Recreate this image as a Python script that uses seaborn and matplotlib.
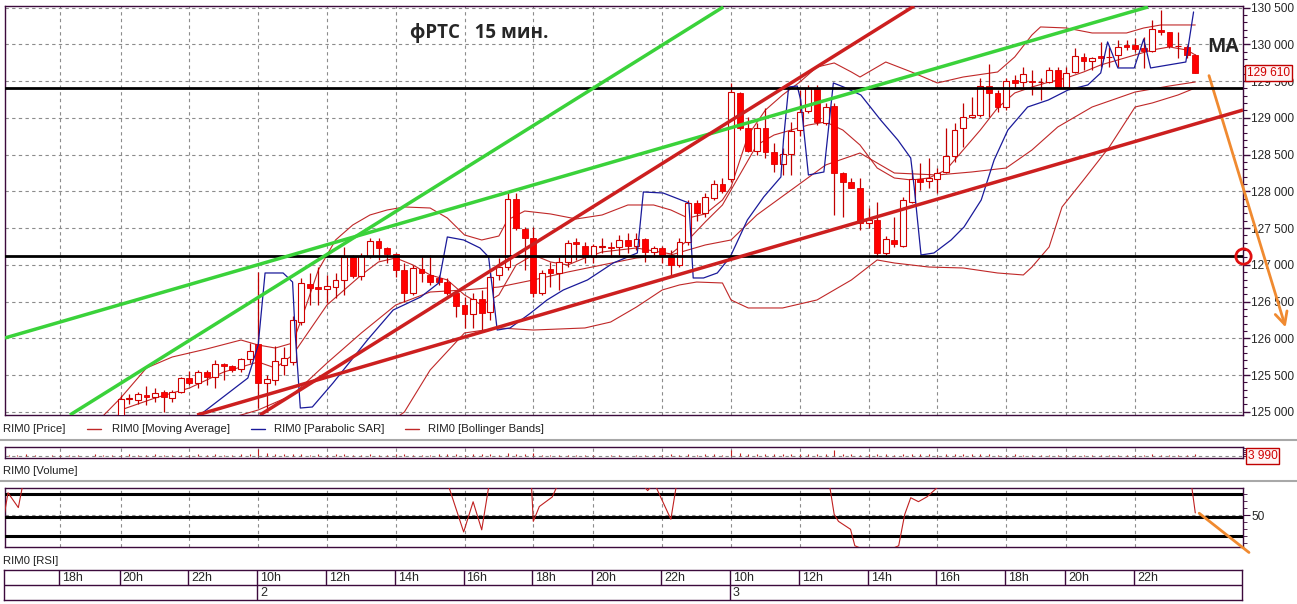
import matplotlib
matplotlib.use('Agg')
import matplotlib.pyplot as plt
import matplotlib.font_manager as fm
from matplotlib.lines import Line2D
from matplotlib.ticker import FixedLocator, MultipleLocator, FuncFormatter
import numpy as np
import pandas as pd
import seaborn as sns

# bar index: 0 = the 10:00 candle of day 2, one step = one 15 min candle
bar = list(range(-16, 110))
opens = [124950, 125175, 125160, 125225, 125200, 125275, 125185, 125275, 125465, 125390, 125545, 125480, 125650, 125630, 125580, 125715,
         125920, 125390, 125435, 125640, 125680, 126220, 126740, 126700, 126665, 126700, 126795, 127120, 126850, 127120, 127325, 127225,
         127145, 126930, 126620, 126945, 126865, 126820, 126770, 126620, 126455, 126325, 126530, 126360, 126860, 126975, 127900, 127485,
         127370, 126620, 126940, 126885, 127045, 127315, 127260, 127110, 127245, 127245, 127245, 127340, 127255, 127345, 127180, 127225,
         127135, 127000, 127315, 127835, 127710, 127905, 128095, 128165, 129335, 128855, 128555, 128855, 128540, 128370, 128505, 128835,
         129095, 129400, 128925, 129160, 128245, 128125, 128050, 127565, 127610, 127155, 127340, 127255, 127860, 128165, 128140, 128165,
         128265, 128480, 128855, 129005, 129040, 129435, 129340, 129145, 129515, 129490, 129500, 129490, 129490, 129650, 129425, 129620,
         129830, 129775, 129835, 129825, 129855, 129995, 129985, 129950, 129910, 130195, 130165, 129975, 129970, 129855]
highs = [125230, 125240, 125275, 125350, 125320, 125300, 125300, 125480, 125555, 125570, 125570, 125705, 125660, 125640, 125730, 125930,
         126905, 125500, 125895, 125885, 126305, 126820, 126890, 126975, 126860, 126890, 127245, 127135, 127160, 127365, 127365, 127245,
         127160, 127025, 127000, 127105, 127135, 126860, 126815, 126635, 126565, 126615, 126660, 126885, 127095, 127975, 127975, 127520,
         127520, 126930, 127045, 127110, 127340, 127360, 127315, 127290, 127365, 127315, 127405, 127430, 127430, 127365, 127255, 127255,
         127200, 127360, 127880, 127880, 127975, 128155, 128175, 129480, 129355, 129015, 128925, 129130, 128655, 128585, 128945, 129380,
         129445, 129445, 129200, 129200, 128265, 128175, 128175, 127770, 127860, 127390, 127655, 127925, 128290, 128380, 128450, 128315,
         128855, 128925, 129200, 129285, 129540, 129730, 129380, 129540, 129585, 129695, 129650, 129540, 129695, 129695, 129695, 129955,
         129880, 129830, 130035, 129970, 130060, 130060, 130080, 130095, 130330, 130465, 130170, 130170, 129990, 129870]
lows = [124900, 125110, 125105, 125095, 125140, 125000, 125140, 125250, 125365, 125320, 125365, 125320, 125435, 125545, 125545, 125660,
        125050, 125000, 125365, 125500, 125635, 126180, 126455, 126455, 126480, 126550, 126590, 126820, 126795, 127095, 127065, 127020,
        126840, 126500, 126590, 126770, 126725, 126725, 126590, 126295, 126140, 126140, 126115, 126250, 126795, 126930, 127475, 126930,
        126565, 126590, 126700, 126660, 126975, 127065, 127020, 127020, 127160, 127110, 127135, 127155, 127200, 127045, 127110, 127020,
        126860, 126975, 127270, 127590, 127655, 127880, 127975, 128130, 128835, 128540, 128495, 128450, 128265, 128220, 128220, 128750,
        129060, 128900, 128900, 127680, 127655, 128040, 127475, 127495, 127110, 127135, 127245, 127245, 127835, 128020, 128040, 127975,
        128245, 128405, 128605, 128995, 129015, 129015, 129085, 129105, 129400, 129425, 129310, 129240, 129475, 129400, 129400, 129605,
        129650, 129650, 129695, 129695, 129695, 129925, 129895, 129675, 129900, 130125, 129950, 129810, 129815, 129610]
closes = [125170, 125190, 125240, 125200, 125250, 125200, 125275, 125455, 125390, 125540, 125480, 125645, 125630, 125570, 125715, 125830,
          125390, 125445, 125690, 125730, 126250, 126755, 126680, 126665, 126710, 126795, 127110, 126850, 127120, 127325, 127225, 127145,
          126930, 126620, 126955, 126885, 126770, 126770, 126620, 126440, 126325, 126530, 126350, 126840, 126975, 127890, 127495, 127370,
          126620, 126895, 126895, 127045, 127300, 127285, 127110, 127260, 127250, 127225, 127340, 127260, 127345, 127180, 127225, 127135,
          127000, 127315, 127835, 127710, 127920, 128095, 128010, 129345, 128855, 128555, 128855, 128540, 128370, 128505, 128820, 129075,
          129400, 128940, 129150, 128245, 128125, 128050, 127565, 127610, 127155, 127345, 127285, 127880, 128165, 128130, 128175, 128255,
          128480, 128835, 129005, 129040, 129435, 129340, 129145, 129500, 129480, 129595, 129485, 129490, 129650, 129420, 129605, 129835,
          129775, 129820, 129820, 129830, 129970, 129970, 129940, 129910, 130205, 130165, 129975, 129980, 129855, 129610]

# indicator lines (bar, price)
ma_bar = [-16, -12, -8, -4, 0, 2, 4, 6, 8, 10, 12, 14, 16, 18, 20, 22, 24, 26, 28, 30, 32, 34, 36, 38, 40, 44, 48, 50, 52, 54,
          56, 58, 60, 62, 64, 66, 68, 70, 72, 74, 76, 78, 80, 82, 84, 86, 88, 90, 92, 94, 96, 98, 100, 102, 104, 106, 108, 109]
ma_val = [125025, 125188, 125324, 125542, 125678, 125596, 125773, 126113, 126453, 126658, 126862, 127039, 127093, 126998, 126862,
          126794, 126590, 126453, 126590, 126998, 127134, 127039, 126998, 127093, 127175, 127229, 127148, 127338, 127583, 127814,
          128222, 128630, 128766, 128834, 128902, 128943, 128834, 128630, 128317, 128181, 128154, 128181, 128290, 128562, 128834,
          129134, 129338, 129419, 129487, 129542, 129623, 129719, 129787, 129855, 129923, 129964, 129923, 129855]
bb_up_bar = [-18, -16, -13, -10, -6, -2, 0, 2, 4, 5, 7, 9, 11, 13, 15, 17, 20, 22, 24, 26, 28, 29, 31, 34, 37, 40, 43, 46, 48, 50,
             52, 54, 55, 57, 59, 61, 63, 65, 67, 69, 70, 73, 76, 79, 82, 86, 88, 90, 91, 94, 97, 101, 103, 105, 109]
bb_up_val = [124950, 125188, 125596, 125746, 125855, 125977, 125909, 125868, 125936, 126249, 126930, 127338, 127542, 127678, 127746,
             127787, 127773, 127637, 127406, 127338, 127392, 127610, 127732, 127692, 127624, 127678, 127814, 127814, 127746, 127637,
             127692, 127882, 128059, 128766, 129106, 129311, 129487, 129691, 129746, 129623, 129555, 129759, 129623, 129474, 129555,
             129623, 129828, 130127, 130236, 130222, 130154, 130154, 130222, 130263, 130263]
bb_mid_bar = [-8, 0, 4, 8, 12, 16, 20, 24, 28, 32, 36, 40, 44, 48, 52, 55, 58, 62, 66, 70, 74, 79, 83, 87, 90, 93, 97, 102, 106, 109]
bb_mid_val = [124753, 125025, 125229, 125664, 126073, 126453, 126630, 126658, 126698, 126794, 126902, 126998, 127093, 127134, 127270,
              127338, 127678, 128018, 128358, 128521, 128249, 128222, 128263, 128317, 128562, 128875, 129147, 129351, 129433, 129487]
bb_low_bar = [14, 17, 20, 24, 28, 32, 38, 41, 44, 47, 49, 51, 54, 55, 57, 61, 65, 69, 72, 74, 78, 82, 86, 89, 90, 92, 93.5, 96, 99,
              102, 104, 107, 109]
bb_low_val = [124753, 124997, 125569, 126073, 126141, 126113, 126141, 126222, 126426, 126658, 126726, 126766, 126753, 126522, 126413,
              126413, 126522, 126794, 127066, 127025, 126970, 126957, 126889, 126862, 126970, 127243, 127787, 128154, 128603, 129147,
              129202, 129311, 129406]
sar_bar = [-6.8, -1.2, 0.0, 0.8, 2.9, 4.0, 4.3, 4.9, 6.3, 8.7, 12.7, 15.7, 18.9, 21.0, 21.5, 22.0, 23.9, 25.8, 26.8, 27.4, 27.8, 29.3,
           31.7, 33.6, 35.5, 38.3, 41.3, 44.1, 44.8, 47.1, 50.1, 50.6, 51.8, 53.4, 54.9, 56.9, 58.8, 60.8, 61.1, 61.7, 62.7, 63.1,
           64.0, 65.8, 66.9, 68.1, 70.1, 72.4, 74.4, 75.9, 76.3, 77.1, 78.6, 80.6, 82.1, 84.1, 85.6, 87.2, 89.5, 91.9, 94.2, 96.5,
           98.0, 98.8, 100.0, 101.9, 103.0, 103.8, 107.9, 108.8]
sar_val = [124957, 125460, 125909, 126889, 126889, 126766, 126073, 125052, 125066, 125392, 125977, 126385, 126562, 126753, 127066,
           127379, 127338, 127229, 127107, 126522, 126113, 126141, 126345, 126522, 126658, 126794, 127025, 127161, 127991, 127977,
           127841, 126821, 126821, 126889, 127107, 127610, 127923, 128195, 128698, 129419, 129433, 129242, 128222, 128263, 129474,
           129419, 129310, 128970, 128698, 128453, 128059, 127134, 127161, 127338, 127515, 127882, 128426, 128834, 129147, 129242,
           129378, 129447, 129610, 130032, 129678, 129678, 130072, 129678, 129759, 130440]

# hand-drawn lines: (bar, price) end points
green_lines = [([-29.45, 103.5], [126005, 130508]), ([-21.9, 54.1], [124957, 130508])]
red_lines = [([0.2, 76.3], [124957, 130521]), ([-7.1, 114.55], [124957, 129106])]
levels = [129400, 127120]

vol_bar = list(range(-29, 110))
volume = [700, 500, 900, 600, 400, 800, 500, 600, 700, 400, 900, 600, 500,
          800, 1000, 700, 600, 900, 500, 700, 600, 800, 1100, 700, 900, 600, 800, 900, 1200,
          3300, 1400, 1100, 900, 1300, 1000, 800, 1200, 700, 900, 1000, 800, 600, 900, 700, 800,
          1100, 900, 700, 800, 600, 900, 1000, 1200, 800, 1300, 900, 1000, 700, 1500, 1200, 900,
          1400, 800, 700, 600, 800, 500, 600, 500, 400, 600, 500, 400, 600, 500, 700, 800,
          900, 700, 1100, 800, 900, 1000, 800, 2900, 1600, 1200, 1300, 1000, 1100, 900, 1200, 1000,
          1100, 900, 1000, 3100, 1300, 900, 800, 1200, 1000, 1300, 800, 900, 1200, 1000, 900, 800,
          1100, 1000, 900, 1200, 1000, 900, 800, 700, 900, 600, 800, 700, 500, 600, 800, 700,
          600, 500, 700, 600, 500, 800, 600, 700, 900, 800, 600, 700, 600, 900]

rsi_bar = [-29.5, -29.1, -27.9, -27.4, -24, 10, 22.2, 23.9, 25.0, 26.0, 26.8, 29, 31.8, 32.0, 32.7, 34.2, 34.7, 40, 45.0, 45.3,
           45.6, 46.3, 48.0, 48.6, 55, 66.5, 67.0, 67.5, 68.9, 69.4, 72, 74.5, 75.2, 75.9, 76.8, 77.8, 79.0, 90, 108.6, 109.0]
rsi_val = [52, 71, 57, 78, 85, 88, 76, 34, 62.5, 36, 76, 85, 76, 44, 58, 67, 76, 85, 76, 73, 76, 76, 46, 76, 88, 76, 50.5, 44,
           36.5, 21, 12, 21, 50.5, 66.3, 62.6, 67.2, 76, 85, 76, 52]

grid_bars = [-23, -16, -8, 0, 8, 16, 24, 32, 39, 47, 55, 63, 71, 79, 87, 94, 102]
hour_labels = ['18h', '20h', '22h', '10h', '12h', '14h', '16h', '18h', '20h', '22h', '10h', '12h', '14h', '16h', '18h', '20h', '22h']
day_bars = [0, 55]
day_labels = ['2', '3']

sns.set_style('white')
installed = {f.name for f in fm.fontManager.ttflist}
narrow = 'Liberation Sans Narrow' in installed
ui_font = 'Liberation Sans Narrow' if narrow else 'Liberation Sans'
plt.rcParams['font.family'] = [ui_font, 'DejaVu Sans']
tick_fs = 10 if narrow else 8.6
cap_fs = 9.5 if narrow else 8.2

W, H = 1297, 604
fig = plt.figure(figsize=(W / 100, H / 100), dpi=100, facecolor='white')


def box(x0, y0, x1, y1):
    return [x0 / W, 1 - y1 / H, (x1 - x0) / W, (y1 - y0) / H]


frame = '#3c0a3c'
gridc = '#8c8c8c'
thin_red = '#c02828'
xlim = (-29.45, 114.55)

ax = fig.add_axes(box(5, 6, 1243, 415))
vax = fig.add_axes(box(5, 447, 1243, 458))
rax = fig.add_axes(box(5, 488, 1243, 547))
tax = fig.add_axes(box(4, 570, 1242, 600))

for a in (ax, vax, rax, tax):
    a.set_xlim(*xlim)
    a.set_facecolor('white')
    for s in a.spines.values():
        s.set_color(frame)
        s.set_linewidth(1)

# ---- price panel
ax.set_ylim(124957, 130521)
ax.set_xticks(grid_bars)
ax.tick_params(axis='x', length=0, labelbottom=False)
ax.yaxis.tick_right()
ax.yaxis.set_major_locator(MultipleLocator(500))
ax.yaxis.set_minor_locator(MultipleLocator(100))
ax.yaxis.set_major_formatter(FuncFormatter(lambda v, p: f"{int(round(v)):,}".replace(',', ' ')))
ax.tick_params(axis='y', which='major', length=5, width=1, color=frame, labelsize=tick_fs, pad=1)
ax.tick_params(axis='y', which='minor', length=3, width=0.8, color=frame)
ax.grid(True, which='major', color=gridc, ls=(0, (3, 3)), lw=0.8)
ax.set_axisbelow(True)

for xs, ys in [(bb_up_bar, bb_up_val), (bb_mid_bar, bb_mid_val), (bb_low_bar, bb_low_val), (ma_bar, ma_val)]:
    sns.lineplot(x=xs, y=ys, ax=ax, color=thin_red, lw=0.8, estimator=None, sort=False, legend=False, zorder=2)

df = pd.DataFrame({'bar': bar, 'open': opens, 'high': highs, 'low': lows, 'close': closes})
up = df[df['close'] >= df['open']]
dn = df[df['close'] < df['open']]
ax.vlines(df['bar'], df['low'], df['high'], color='#c00000', lw=0.9, zorder=3)
ax.bar(up['bar'], up['close'] - up['open'], bottom=up['open'], width=0.68,
       facecolor='white', edgecolor='#d00000', lw=0.8, zorder=4)
ax.bar(dn['bar'], dn['open'] - dn['close'], bottom=dn['close'], width=0.68,
       facecolor='#ff0000', edgecolor='#e00000', lw=0.6, zorder=4)

sns.lineplot(x=sar_bar, y=sar_val, ax=ax, color='#1a1a9a', lw=0.9, estimator=None, sort=False, legend=False, zorder=5)

for lv in levels:
    ax.axhline(lv, color='black', lw=2, zorder=6)
for xs, ys in green_lines:
    ax.plot(xs, ys, color='#3ad23a', lw=2.5, solid_capstyle='butt', zorder=7)
for xs, ys in red_lines:
    ax.plot(xs, ys, color='#cc1f1f', lw=2.5, solid_capstyle='butt', zorder=7)

ax.text(17.7, 130154, 'фРТС   15 мин.', fontsize=13.5, fontweight='bold', family=['Open Sans', 'DejaVu Sans'],
        ha='left', va='center', zorder=8)
ax.text(112.2, 129963, 'MA', fontsize=14, fontweight='bold', family=['Open Sans', 'DejaVu Sans'],
        ha='center', va='center', zorder=8)
ax.text(1.003, closes[-1], f"{closes[-1]:,}".replace(',', ' '), transform=ax.get_yaxis_transform(),
        ha='left', va='center', color='#d00000', fontsize=tick_fs, zorder=9,
        bbox=dict(boxstyle='square,pad=0.15', fc='#fff4f4', ec='#c00000', lw=1))
ax.plot([xlim[1]], [levels[1]], marker='o', ms=11, mfc='none', mec='#e01010', mew=2, clip_on=False, zorder=10)
ax.annotate('', xy=(119.6, 126113), xytext=(110.5, 129610), annotation_clip=False,
            arrowprops=dict(arrowstyle='->', color='#f08a30', lw=2, mutation_scale=22))

# ---- volume panel
vax.set_ylim(-700, 4300)
vax.set_xticks(grid_bars)
vax.set_yticks([])
vax.tick_params(axis='x', length=0, labelbottom=False)
vax.grid(True, axis='x', color=gridc, ls=(0, (3, 3)), lw=0.8)
vax.axhline(0, color=gridc, ls=(0, (3, 3)), lw=0.8)
vax.vlines(vol_bar, 0, volume, color='#c02020', lw=0.8)
vax.yaxis.tick_right()
vax.yaxis.set_minor_locator(MultipleLocator(1000))
vax.tick_params(axis='y', which='minor', length=3, color=frame)
vax.text(1.004, 0.2, '3 990', transform=vax.transAxes, ha='left', va='center', color='#d00000', fontsize=tick_fs,
         bbox=dict(boxstyle='square,pad=0.15', fc='#fff4f4', ec='#c00000', lw=1))

# ---- RSI panel
rax.set_ylim(19.8, 75.5)
rax.set_xticks(grid_bars)
rax.tick_params(axis='x', length=0, labelbottom=False)
rax.grid(True, axis='x', color=gridc, ls=(0, (3, 3)), lw=0.8)
rax.axhline(50, color=gridc, ls=(0, (3, 3)), lw=0.8)
for lv in [70, 47.8, 30]:
    rax.axhline(lv, color='black', lw=2.2, zorder=3)
sns.lineplot(x=rsi_bar, y=rsi_val, ax=rax, color='#c02020', lw=0.8, estimator=None, sort=False, legend=False, zorder=4)
rax.yaxis.tick_right()
rax.set_yticks([50])
rax.yaxis.set_minor_locator(FixedLocator([70, 63.33, 56.67, 43.33, 36.67, 30, 23.33]))
rax.tick_params(axis='y', which='major', length=5, color=frame, labelsize=tick_fs, pad=1)
rax.tick_params(axis='y', which='minor', length=3, color=frame)
rax.annotate('', xy=(115.5, 13), xytext=(109.2, 53.3), annotation_clip=False,
             arrowprops=dict(arrowstyle='-', color='#f08a30', lw=2))

# ---- time scale
tax.set_ylim(0, 2)
tax.set_xticks([])
tax.set_yticks([])
tax.axhline(1, color=frame, lw=1)
tax.vlines(grid_bars, 1, 2, color=frame, lw=1)
tax.vlines(day_bars, 0, 1, color=frame, lw=1)
for b, lab in zip(grid_bars, hour_labels):
    tax.text(b + 0.35, 1.45, lab, fontsize=tick_fs + 0.4, ha='left', va='center')
for b, lab in zip(day_bars, day_labels):
    tax.text(b + 0.35, 0.45, lab, fontsize=tick_fs + 0.4, ha='left', va='center')

# ---- captions and separators
sep = '#a8a8a8'
for py in [440, 481]:
    fig.add_artist(Line2D([0, 1], [1 - py / H] * 2, color=sep, lw=1.5))
ly = 1 - 429 / H
fig.text(3 / W, ly, 'RIM0 [Price]', fontsize=cap_fs, va='center', color='#202020')
legend_items = [(87, 112, thin_red, 'RIM0 [Moving Average]'), (251, 274, '#1a1a9a', 'RIM0 [Parabolic SAR]'),
                (405, 428, thin_red, 'RIM0 [Bollinger Bands]')]
for x0, tx, c, lab in legend_items:
    fig.add_artist(Line2D([x0 / W, (x0 + 14) / W], [ly, ly], color=c, lw=1))
    fig.text(tx / W, ly, lab, fontsize=cap_fs, va='center', color='#202020')
fig.text(3 / W, 1 - 471 / H, 'RIM0 [Volume]', fontsize=cap_fs, va='center', color='#202020')
fig.text(3 / W, 1 - 561 / H, 'RIM0 [RSI]', fontsize=cap_fs, va='center', color='#202020')

fig.savefig('out.png', dpi=100, facecolor='white')
